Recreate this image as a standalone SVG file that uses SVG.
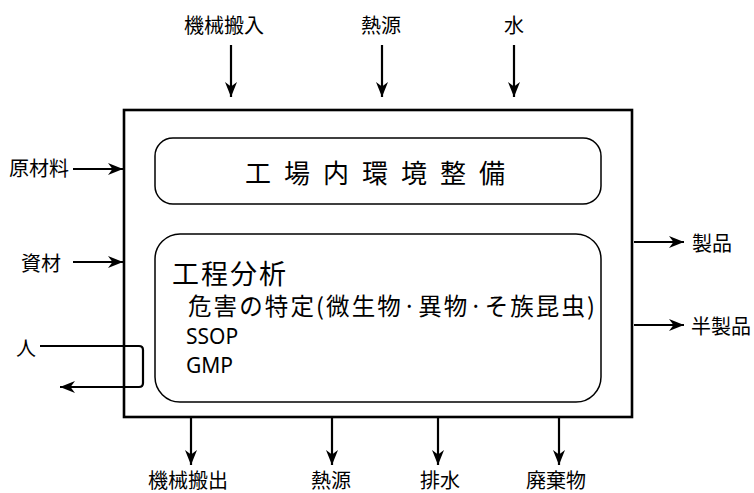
<svg xmlns="http://www.w3.org/2000/svg" width="754" height="493" viewBox="0 0 754 493">
<defs>
<marker id="ah" markerUnits="userSpaceOnUse" markerWidth="16" markerHeight="14" viewBox="0 0 16 14" refX="15" refY="7" orient="auto">
<path d="M0,1 L15,7 L0,13 L4.5,7 z" fill="#000"/>
</marker>
<style>
.lbl{font-family:"Noto Sans CJK JP","Noto Sans",sans-serif;font-size:20px;fill:#000}
.c{stroke:#000;stroke-width:2.2;fill:none}
.box{stroke:#000;fill:#fff}
</style>
</defs>
<rect width="754" height="493" fill="#fff"/>
<g id="factory">
<rect class="box" x="124" y="110" width="508" height="307" stroke-width="2.6"/>
</g>
<g id="env">
<rect class="box" x="155" y="138" width="446" height="66" rx="18" stroke-width="1.5"/>
<text x="245" y="183" font-family="'Noto Sans CJK JP',sans-serif" font-size="26" letter-spacing="13" fill="#000">工場内環境整備</text>
</g>
<g id="process">
<rect class="box" x="155" y="234" width="446" height="168" rx="25" stroke-width="1.5"/>
<text x="172" y="284" font-family="'Noto Sans CJK JP',sans-serif" font-size="27" letter-spacing="2" fill="#000">工程分析</text>
<text x="188" y="315" font-family="'Noto Sans CJK JP',sans-serif" font-size="23.5" textLength="407" lengthAdjust="spacing" fill="#000">危害の特定(微生物·異物·そ族昆虫)</text>
<text x="186" y="344" font-family="'Noto Sans','Noto Sans CJK JP',sans-serif" font-size="21" fill="#000">SSOP</text>
<text x="186" y="373" font-family="'Noto Sans','Noto Sans CJK JP',sans-serif" font-size="21" fill="#000">GMP</text>
</g>
<g id="labels">
<text class="lbl" x="224" y="33" text-anchor="middle">機械搬入</text>
<text class="lbl" x="381" y="33" text-anchor="middle">熱源</text>
<text class="lbl" x="514" y="33" text-anchor="middle">水</text>
<text class="lbl" x="9" y="176">原材料</text>
<text class="lbl" x="21" y="271">資材</text>
<text class="lbl" x="16" y="356">人</text>
<text class="lbl" x="692" y="251">製品</text>
<text class="lbl" x="691" y="334">半製品</text>
<text class="lbl" x="188" y="488" text-anchor="middle">機械搬出</text>
<text class="lbl" x="331" y="488" text-anchor="middle">熱源</text>
<text class="lbl" x="440" y="488" text-anchor="middle">排水</text>
<text class="lbl" x="556" y="488" text-anchor="middle">廃棄物</text>
</g>
<g id="connectors">
<line class="c" x1="231" y1="45" x2="231" y2="97" marker-end="url(#ah)"/>
<line class="c" x1="382" y1="45" x2="382" y2="97" marker-end="url(#ah)"/>
<line class="c" x1="514" y1="45" x2="514" y2="97" marker-end="url(#ah)"/>
<line class="c" x1="73" y1="169" x2="123" y2="169" marker-end="url(#ah)"/>
<line class="c" x1="73" y1="262" x2="123" y2="262" marker-end="url(#ah)"/>
<path class="c" d="M40,346 H139 Q143,346 143,350 V383 Q143,387 139,387 H60" marker-end="url(#ah)"/>
<line class="c" x1="634" y1="242" x2="684" y2="242" marker-end="url(#ah)"/>
<line class="c" x1="634" y1="325" x2="684" y2="325" marker-end="url(#ah)"/>
<line class="c" x1="191" y1="418" x2="191" y2="465" marker-end="url(#ah)"/>
<line class="c" x1="332" y1="418" x2="332" y2="465" marker-end="url(#ah)"/>
<line class="c" x1="438" y1="418" x2="438" y2="465" marker-end="url(#ah)"/>
<line class="c" x1="559" y1="418" x2="559" y2="465" marker-end="url(#ah)"/>
</g>
</svg>
